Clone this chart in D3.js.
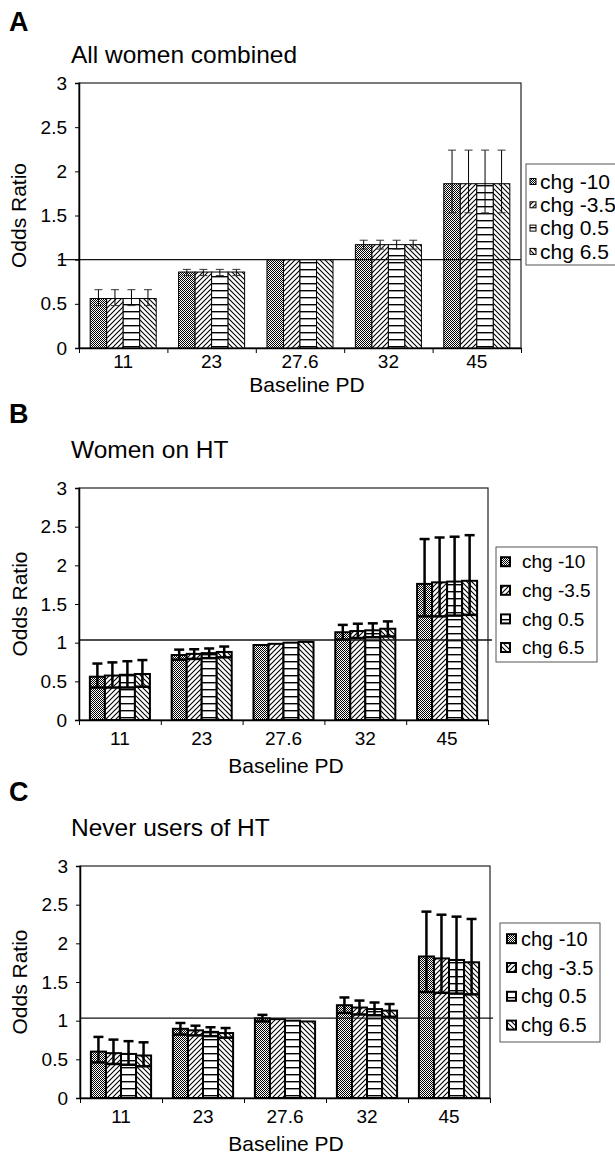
<!DOCTYPE html>
<html>
<head>
<meta charset="utf-8">
<script src="https://cdn.jsdelivr.net/npm/d3@7"></script>
<style>
  html, body { margin: 0; padding: 0; background: #fff; }
  svg { display: block; font-family: "Liberation Sans", Arial, Helvetica, sans-serif; }
</style>
</head>
<body>
<script>
// ---------------- DATA ----------------
const categories = ["11", "23", "27.6", "32", "45"];
const seriesNames = ["chg -10", "chg -3.5", "chg 0.5", "chg 6.5"];
const yTicks = [0, 0.5, 1, 1.5, 2, 2.5, 3];
const yTickLabels = ["0", "0.5", "1", "1.5", "2", "2.5", "3"];

// Panel A: All women combined
const A_m10 = [0.56, 0.86, 1.00, 1.17, 1.86];
const A_m35 = [0.56, 0.86, 1.00, 1.17, 1.86];
const A_p05 = [0.56, 0.86, 1.00, 1.17, 1.86];
const A_p65 = [0.56, 0.86, 1.00, 1.17, 1.86];
const A_lo  = [0.48, 0.82, null, 1.12, 1.53];
const A_hi  = [0.66, 0.89, null, 1.22, 2.24];
const A_ref = 1.0;

// Panel B: Women on HT
const B_m10 = [0.56, 0.84, 0.97, 1.135, 1.76];
const B_m35 = [0.575, 0.855, 0.985, 1.15, 1.78];
const B_p05 = [0.585, 0.865, 1.00, 1.16, 1.79];
const B_p65 = [0.595, 0.88, 1.01, 1.18, 1.80];
const B_lo_m10 = [0.42, 0.78, null, 1.04, 1.34];
const B_lo_m35 = [0.42, 0.79, null, 1.06, 1.34];
const B_lo_p05 = [0.42, 0.80, null, 1.07, 1.35];
const B_lo_p65 = [0.43, 0.81, null, 1.08, 1.36];
const B_hi_m10 = [0.73, 0.91, null, 1.23, 2.34];
const B_hi_m35 = [0.745, 0.915, null, 1.245, 2.36];
const B_hi_p05 = [0.76, 0.925, null, 1.25, 2.37];
const B_hi_p65 = [0.775, 0.95, null, 1.275, 2.39];
const B_ref = 1.035;

// Panel C: Never users of HT
const C_m10 = [0.60, 0.895, 1.03, 1.20, 1.83];
const C_m35 = [0.58, 0.875, 1.02, 1.17, 1.805];
const C_p05 = [0.57, 0.855, 1.00, 1.15, 1.785];
const C_p65 = [0.55, 0.84, 0.99, 1.13, 1.755];
const C_lo_m10 = [0.46, 0.82, 0.99, 1.10, 1.37];
const C_lo_m35 = [0.44, 0.81, null, 1.08, 1.36];
const C_lo_p05 = [0.43, 0.80, null, 1.07, 1.35];
const C_lo_p65 = [0.41, 0.78, null, 1.05, 1.34];
const C_hi_m10 = [0.79, 0.97, 1.075, 1.30, 2.41];
const C_hi_m35 = [0.755, 0.935, null, 1.26, 2.37];
const C_hi_p05 = [0.735, 0.915, null, 1.235, 2.345];
const C_hi_p65 = [0.72, 0.905, null, 1.215, 2.315];
const C_ref = 1.033;

// ---------------- LAYOUT ----------------
const W = 615, H = 1157;
const svg = d3.select("body").append("svg").attr("width", W).attr("height", H);
svg.append("rect").attr("width", W).attr("height", H).attr("fill", "#fff");

// patterns
const defs = svg.append("defs");
function makePatterns() {
  // checker (chg -10)
  const p0 = defs.append("pattern").attr("id", "pat0").attr("patternUnits", "userSpaceOnUse")
    .attr("width", 2).attr("height", 2);
  p0.append("rect").attr("width", 2).attr("height", 2).attr("fill", "#fff");
  p0.append("rect").attr("x", 0).attr("y", 0).attr("width", 1).attr("height", 1).attr("fill", "#000");
  p0.append("rect").attr("x", 1).attr("y", 1).attr("width", 1).attr("height", 1).attr("fill", "#000");
  // diagonal "/" (chg -3.5)
  const p1 = defs.append("pattern").attr("id", "pat1").attr("patternUnits", "userSpaceOnUse")
    .attr("width", 5).attr("height", 5);
  p1.append("rect").attr("width", 5).attr("height", 5).attr("fill", "#fff");
  p1.append("path").attr("d", "M0,5 L5,0 M-1,1 L1,-1 M4,6 L6,4")
    .attr("stroke", "#000").attr("stroke-width", 1.1);
  // horizontal lines (chg 0.5)
  const p2 = defs.append("pattern").attr("id", "pat2").attr("patternUnits", "userSpaceOnUse")
    .attr("width", 6).attr("height", 7);
  p2.append("rect").attr("width", 6).attr("height", 7).attr("fill", "#fff");
  p2.append("rect").attr("x", 0).attr("y", 3).attr("width", 6).attr("height", 1.4).attr("fill", "#000");
  // diagonal "\" (chg 6.5)
  const p3 = defs.append("pattern").attr("id", "pat3").attr("patternUnits", "userSpaceOnUse")
    .attr("width", 5).attr("height", 5);
  p3.append("rect").attr("width", 5).attr("height", 5).attr("fill", "#fff");
  p3.append("path").attr("d", "M0,0 L5,5 M4,-1 L6,1 M-1,4 L1,6")
    .attr("stroke", "#000").attr("stroke-width", 1.1);
}
makePatterns();

const panels = [
  {
    letter: "A", letterY: 31, title: "All women combined", titleY: 63,
    xr: [79, 521], yr: [348, 83], pad: 0.253,
    vals: [A_m10, A_m35, A_p05, A_p65],
    lo: [A_lo, A_lo, A_lo, A_lo], hi: [A_hi, A_hi, A_hi, A_hi],
    ref: A_ref, refX: [58, 521],
    thick: false, labPad: 7, xTitleY: 392, xTitleX: 307, yTitleX: 26,
    legend: { x: 526, y: 164, w: 100, h: 101, row0: 181.5, step: 23.3, sw: 6, swX: 530, textX: 540, fs: 21 }
  },
  {
    letter: "B", letterY: 423, title: "Women on HT", titleY: 458,
    xr: [79, 488], yr: [720, 488], pad: 0.266,
    vals: [B_m10, B_m35, B_p05, B_p65],
    lo: [B_lo_m10, B_lo_m35, B_lo_p05, B_lo_p65], hi: [B_hi_m10, B_hi_m35, B_hi_p05, B_hi_p65],
    ref: B_ref, refX: [79, 492],
    thick: true, labPad: 12, xTitleY: 773, xTitleX: 286, yTitleX: 27,
    legend: { x: 496, y: 547, w: 101, h: 115, row0: 561.7, step: 28.6, sw: 9, swX: 501, textX: 522, fs: 19 }
  },
  {
    letter: "C", letterY: 801, title: "Never users of HT", titleY: 836,
    xr: [80, 490], yr: [1098, 866], pad: 0.266,
    vals: [C_m10, C_m35, C_p05, C_p65],
    lo: [C_lo_m10, C_lo_m35, C_lo_p05, C_lo_p65], hi: [C_hi_m10, C_hi_m35, C_hi_p05, C_hi_p65],
    ref: C_ref, refX: [80, 493],
    thick: true, labPad: 12, xTitleY: 1151, xTitleX: 286, yTitleX: 27,
    legend: { x: 500, y: 923, w: 100, h: 119, row0: 938.7, step: 28.8, sw: 9, swX: 507, textX: 521, fs: 20 }
  }
];

panels.forEach(P => {
  const g = svg.append("g");
  const y = d3.scaleLinear().domain([0, 3]).range(P.yr);
  const x0 = d3.scaleBand().domain(categories).range(P.xr).paddingInner(P.pad).paddingOuter(P.pad / 2);
  const x1 = d3.scaleBand().domain(d3.range(seriesNames.length)).range([0, x0.bandwidth()]);
  const xb = d3.scaleLinear().domain([0, categories.length]).range(P.xr);

  // letter & title
  g.append("text").attr("x", 9).attr("y", P.letterY).attr("font-size", 27).attr("font-weight", "bold")
    .attr("fill", "#000").text(P.letter);
  g.append("text").attr("x", 71).attr("y", P.titleY).attr("font-size", 24.5).attr("fill", "#000").text(P.title);

  // plot frame
  g.append("rect").attr("x", P.xr[0]).attr("y", P.yr[1]).attr("width", P.xr[1] - P.xr[0])
    .attr("height", P.yr[0] - P.yr[1]).attr("fill", "none").attr("stroke", "#222").attr("stroke-width", 1.2);

  // bars
  const sw = P.thick ? 2 : 1;
  seriesNames.forEach((s, si) => {
    g.append("g").selectAll("rect").data(categories).join("rect")
      .attr("x", c => x0(c) + x1(si))
      .attr("y", (c, i) => y(P.vals[si][i]))
      .attr("width", x1.bandwidth())
      .attr("height", (c, i) => y(0) - y(P.vals[si][i]))
      .attr("fill", `url(#pat${si})`)
      .attr("stroke", "#000").attr("stroke-width", sw);
  });

  // error bars
  const ew = P.thick ? 2.5 : 1;
  const capHi = P.thick ? 10 : 8;
  const capLo = P.thick ? x1.bandwidth() : 8;
  seriesNames.forEach((s, si) => {
    categories.forEach((c, i) => {
      const lo = P.lo[si][i], hi = P.hi[si][i];
      if (hi == null || lo == null) return;
      const cx = x0(c) + x1(si) + x1.bandwidth() / 2;
      g.append("line").attr("x1", cx).attr("x2", cx).attr("y1", y(lo)).attr("y2", y(hi))
        .attr("stroke", "#000").attr("stroke-width", ew);
      g.append("line").attr("x1", cx - capHi / 2).attr("x2", cx + capHi / 2).attr("y1", y(hi)).attr("y2", y(hi))
        .attr("stroke", P.thick ? "#000" : "#333").attr("stroke-width", ew);
      g.append("line").attr("x1", cx - capLo / 2).attr("x2", cx + capLo / 2).attr("y1", y(lo)).attr("y2", y(lo))
        .attr("stroke", P.thick ? "#000" : "#333").attr("stroke-width", ew);
    });
  });

  // reference line
  g.append("line").attr("x1", P.refX[0]).attr("x2", P.refX[1]).attr("y1", y(P.ref)).attr("y2", y(P.ref))
    .attr("stroke", "#111").attr("stroke-width", 1.4);

  // y axis
  const ya = g.append("g").attr("transform", `translate(${P.xr[0]},0)`)
    .call(d3.axisLeft(y).tickValues(yTicks).tickFormat((d, i) => yTickLabels[i]).tickSize(4).tickPadding(8));
  ya.selectAll("text").attr("font-size", 19).attr("fill", "#000").attr("font-family", null);
  ya.selectAll("line").attr("stroke", "#000");
  ya.select(".domain").attr("stroke", "#000").attr("stroke-width", 1.5);

  // x axis: boundary ticks
  const xt = g.append("g").attr("transform", `translate(0,${P.yr[0]})`)
    .call(d3.axisBottom(xb).tickValues(d3.range(categories.length + 1)).tickFormat("").tickSize(5).tickSizeOuter(0));
  xt.selectAll("line").attr("stroke", "#000");
  xt.select(".domain").attr("stroke", "#000").attr("stroke-width", 1.5);
  // x axis: labels
  const xl = g.append("g").attr("transform", `translate(0,${P.yr[0]})`)
    .call(d3.axisBottom(x0).tickSize(0).tickPadding(P.labPad));
  xl.select(".domain").remove();
  xl.selectAll("text").attr("font-size", 19).attr("fill", "#000").attr("font-family", null);

  // axis titles
  g.append("text").attr("x", P.xTitleX).attr("y", P.xTitleY).attr("text-anchor", "middle")
    .attr("font-size", 21).attr("fill", "#000").text("Baseline PD");
  g.append("text").attr("transform", `translate(${P.yTitleX},${(P.yr[0] + P.yr[1]) / 2}) rotate(-90)`)
    .attr("text-anchor", "middle").attr("font-size", 21).attr("fill", "#000").text("Odds Ratio");

  // legend
  const L = P.legend;
  g.append("rect").attr("x", L.x).attr("y", L.y).attr("width", L.w).attr("height", L.h)
    .attr("fill", "#fff").attr("stroke", "#555").attr("stroke-width", 1);
  seriesNames.forEach((s, si) => {
    const cy = L.row0 + si * L.step;
    g.append("rect").attr("x", L.swX).attr("y", cy - L.sw / 2).attr("width", L.sw).attr("height", L.sw)
      .attr("fill", `url(#pat${si})`).attr("stroke", "#000").attr("stroke-width", P.thick ? 2 : 1);
    g.append("text").attr("x", L.textX).attr("y", cy).attr("dy", "0.35em")
      .attr("font-size", L.fs).attr("fill", "#000").text(s);
  });
});
</script>
</body>
</html>
